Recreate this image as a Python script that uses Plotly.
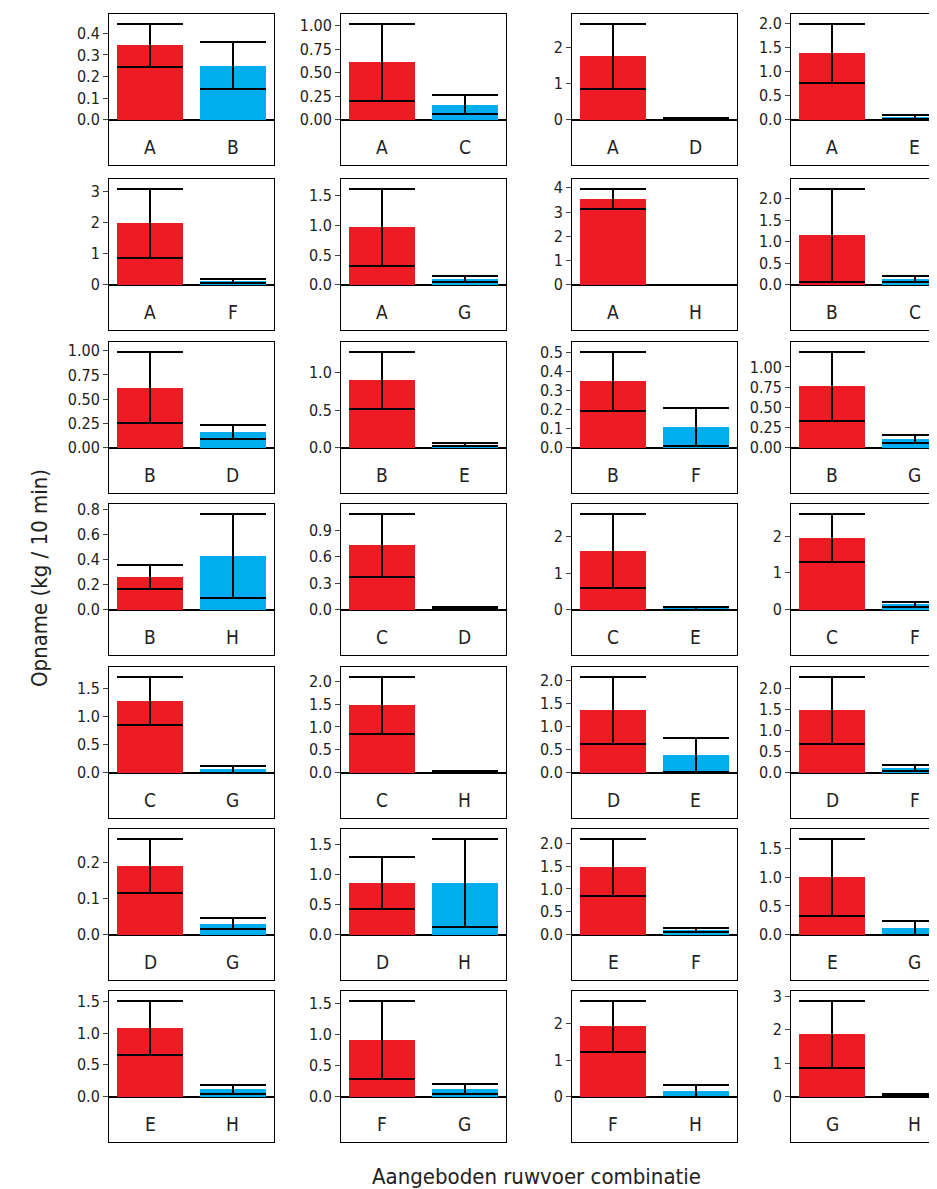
import plotly.graph_objects as go

# pair labels, values and errors per panel (row by row)
cat1 = ["A", "A", "A", "A", "A", "A", "A", "B", "B", "B", "B", "B", "B", "C",
        "C", "C", "C", "C", "D", "D", "D", "D", "E", "E", "E", "F", "F", "G"]
cat2 = ["B", "C", "D", "E", "F", "G", "H", "C", "D", "E", "F", "G", "H", "D",
        "E", "F", "G", "H", "E", "F", "G", "H", "F", "G", "H", "G", "H", "H"]
val1 = [0.345, 0.61, 1.75, 1.38, 1.97, 0.97, 3.55, 1.15, 0.62, 0.90, 0.35, 0.76, 0.26, 0.73,
        1.60, 1.95, 1.28, 1.47, 1.35, 1.48, 0.19, 0.86, 1.47, 1.00, 1.08, 0.92, 1.93, 1.87]
err1 = [0.10, 0.41, 0.90, 0.62, 1.12, 0.65, 0.42, 1.08, 0.37, 0.38, 0.155, 0.43, 0.095, 0.36,
        1.02, 0.66, 0.43, 0.63, 0.73, 0.80, 0.075, 0.43, 0.63, 0.67, 0.43, 0.63, 0.70, 1.00]
val2 = [0.25, 0.16, 0.03, 0.05, 0.12, 0.09, 0.0, 0.13, 0.16, 0.04, 0.11, 0.11, 0.43, 0.02,
        0.04, 0.15, 0.06, 0.02, 0.38, 0.12, 0.03, 0.86, 0.10, 0.11, 0.12, 0.13, 0.15, 0.05]
err2 = [0.11, 0.10, 0.03, 0.04, 0.05, 0.05, 0.0, 0.07, 0.07, 0.02, 0.10, 0.05, 0.34, 0.01,
        0.04, 0.07, 0.06, 0.02, 0.37, 0.07, 0.015, 0.73, 0.05, 0.12, 0.07, 0.08, 0.17, 0.03]
# y tick labels per panel
ticks = [
    ["0.0", "0.1", "0.2", "0.3", "0.4"], ["0.00", "0.25", "0.50", "0.75", "1.00"],
    ["0", "1", "2"], ["0.0", "0.5", "1.0", "1.5", "2.0"],
    ["0", "1", "2", "3"], ["0.0", "0.5", "1.0", "1.5"], ["0", "1", "2", "3", "4"],
    ["0.0", "0.5", "1.0", "1.5", "2.0"],
    ["0.00", "0.25", "0.50", "0.75", "1.00"], ["0.0", "0.5", "1.0"],
    ["0.0", "0.1", "0.2", "0.3", "0.4", "0.5"], ["0.00", "0.25", "0.50", "0.75", "1.00"],
    ["0.0", "0.2", "0.4", "0.6", "0.8"], ["0.0", "0.3", "0.6", "0.9"], ["0", "1", "2"], ["0", "1", "2"],
    ["0.0", "0.5", "1.0", "1.5"], ["0.0", "0.5", "1.0", "1.5", "2.0"],
    ["0.0", "0.5", "1.0", "1.5", "2.0"], ["0.0", "0.5", "1.0", "1.5", "2.0"],
    ["0.0", "0.1", "0.2"], ["0.0", "0.5", "1.0", "1.5"], ["0.0", "0.5", "1.0", "1.5", "2.0"],
    ["0.0", "0.5", "1.0", "1.5"],
    ["0.0", "0.5", "1.0", "1.5"], ["0.0", "0.5", "1.0", "1.5"], ["0", "1", "2"], ["0", "1", "2", "3"],
]

W, H = 937, 1189
EDGE = 930  # visible right edge (page has a small body margin)
col_x = [101, 333, 564, 783]
row_y = [6, 171, 334, 496, 659, 821, 983]
pw, ph = 165, 151
FONT = "DejaVu Sans Condensed, Liberation Sans Narrow, Liberation Sans, sans-serif"

fig = go.Figure()
annotations = []
for i in range(len(cat1)):
    r, c = divmod(i, 4)
    n = "" if i == 0 else str(i + 1)
    x0 = col_x[c] / W
    x1 = min(col_x[c] + pw, EDGE) / W
    y1 = 1 - row_y[r] / H
    y0 = 1 - (row_y[r] + ph) / H
    xmax = -0.5 + (min(col_x[c] + pw, EDGE) - col_x[c]) / 82.5
    top = max(val1[i] + err1[i], val2[i] + err2[i]) * 1.1
    for x, v, e, colr in [(0, val1[i], err1[i], "#ED1C24"), (1, val2[i], err2[i], "#00AEEF")]:
        fig.add_trace(go.Bar(
            x=[x], y=[v], marker_color=colr, width=0.8, marker_line_width=0,
            error_y=dict(type="data", array=[e], color="black", thickness=2, width=33),
            xaxis="x" + n, yaxis="y" + n, showlegend=False))
    fig.update_layout(**{
        "xaxis" + n: dict(domain=[x0, x1], range=[-0.5, xmax], anchor="y" + n,
                          showticklabels=False, ticks="", showgrid=False, zeroline=False,
                          automargin=False,
                          showline=True, mirror=True, linecolor="black", linewidth=1),
        "yaxis" + n: dict(domain=[y0, y1], range=[-top * 0.3 / 0.7, top], anchor="x" + n,
                          tickvals=[float(t) for t in ticks[i]], ticktext=ticks[i],
                          ticks="outside", ticklen=5, automargin=False,
                          showgrid=False, zeroline=True, zerolinecolor="black", zerolinewidth=1.5,
                          showline=True, mirror=True, linecolor="black", linewidth=1,
                          tickfont=dict(size=16, color="#222")),
    })
    for x, t in [(0, cat1[i]), (1, cat2[i])]:
        annotations.append(dict(x=x, y=0.12, xref="x" + n, yref="y%s domain" % n, text=t,
                                yanchor="middle", showarrow=False,
                                font=dict(size=19, color="#222")))

annotations.append(dict(x=31 / W, y=1 - 570 / H, xref="paper", yref="paper", text="Opname (kg / 10 min)",
                        textangle=-90, showarrow=False, xanchor="center", yanchor="middle",
                        font=dict(size=22, color="#222")))
annotations.append(dict(x=528 / W, y=1 - 1168 / H, xref="paper", yref="paper",
                        text="Aangeboden ruwvoer combinatie", showarrow=False,
                        xanchor="center", yanchor="middle",
                        font=dict(size=22, color="#222")))

fig.update_layout(width=W, height=H, margin=dict(l=0, r=0, t=0, b=0, pad=0),
                  plot_bgcolor="white", paper_bgcolor="white", bargap=0,
                  font=dict(family=FONT), annotations=annotations)
fig.write_html("out.html")
